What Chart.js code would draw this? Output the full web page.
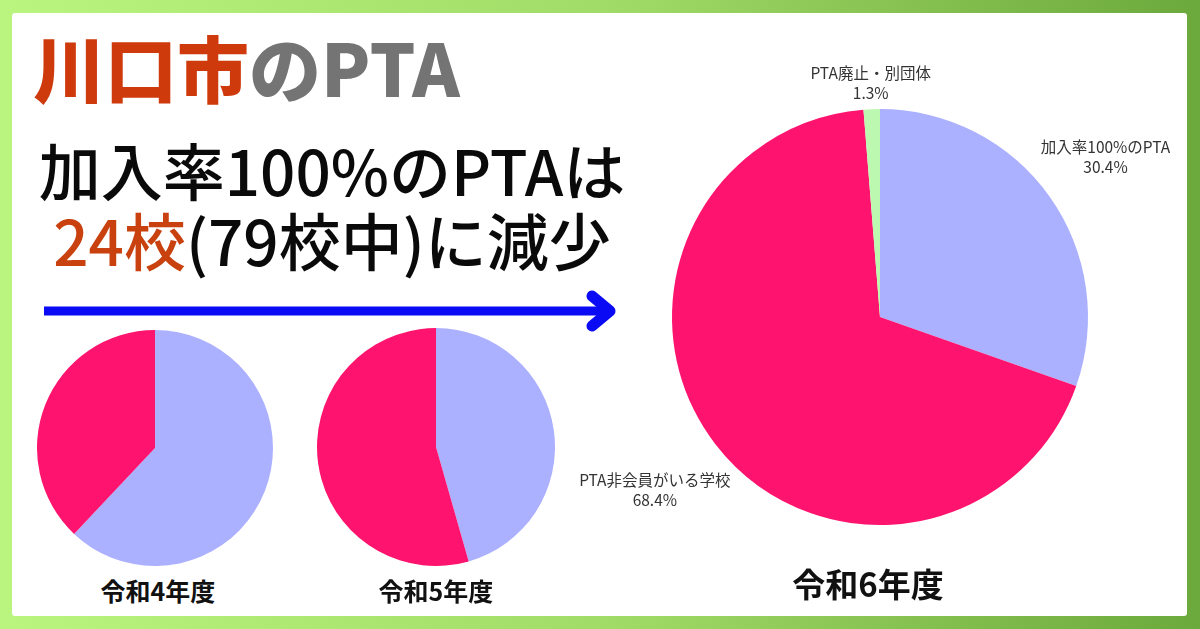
<!DOCTYPE html>
<html lang="ja">
<head>
<meta charset="utf-8">
<title>川口市のPTA</title>
<script src="https://cdn.jsdelivr.net/npm/chart.js@4.4.1/dist/chart.umd.min.js"></script>
<style>
  html, body { margin: 0; padding: 0; }
  body {
    width: 1200px; height: 629px; overflow: hidden; position: relative;
    background: linear-gradient(to right, #b9f57f 0%, #a2dc68 50%, #6ca93c 100%);
    font-family: "Noto Sans CJK JP", "Noto Sans", sans-serif;
  }
  .panel {
    position: absolute; left: 12px; top: 13px; width: 1175px; height: 603px;
    background: #fff; border-radius: 3px;
  }
  .title {
    position: absolute; left: 33px; top: 30px; font-size: 72px; font-weight: 900;
    line-height: 1; letter-spacing: 0px; white-space: nowrap;
  }
  .title .city { color: #cf3a0c; }
  .title .pta { color: #747474; }
  .lead {
    position: absolute; left: 12px; width: 640px; top: 134px; text-align: center;
    font-size: 62px; font-weight: 500; line-height: 70px; color: #0a0a0a; white-space: nowrap;
  }
  .lead .hl { color: #c8410f; }
  .cap {
    position: absolute; font-weight: 700; color: #111; text-align: center; line-height: 1; white-space: nowrap;
  }
  canvas { position: absolute; }
</style>
</head>
<body>
<div class="panel"></div>
<div class="title"><span class="city">川口市</span><span class="pta">のPTA</span></div>
<div class="lead">加入率100%のPTAは<br><span class="hl">24校</span>(79校中)に減少</div>

<svg style="position:absolute;left:0;top:0" width="1200" height="629">
  <line x1="44" y1="311" x2="608" y2="311" stroke="#0a0af5" stroke-width="9" />
  <polyline points="592,296 610,311 592,326" fill="none" stroke="#0a0af5" stroke-width="11"
            stroke-linecap="round" stroke-linejoin="round" />
</svg>

<canvas id="pie-r4" width="236" height="236" style="left:37px;top:330px"></canvas>
<canvas id="pie-r5" width="238" height="238" style="left:317px;top:328px"></canvas>
<canvas id="pie-r6" width="700" height="600" style="left:530px;top:17px"></canvas>

<div class="cap" style="left:58px;width:200px;top:578px;font-size:25px">令和4年度</div>
<div class="cap" style="left:336px;width:200px;top:578px;font-size:25px">令和5年度</div>
<div class="cap" style="left:768px;width:200px;top:567px;font-size:33px">令和6年度</div>

<script>
// 学校数（79校中）
const categorias = ['加入率100%のPTA', 'PTA非会員がいる学校', 'PTA廃止・別団体'];
const colores = ['#abb0ff', '#fe146e', '#bdf8b1'];
const escuelasR4 = [49, 30];
const escuelasR5 = [36, 43];
const escuelasR6 = [24, 54, 1];

// etiquetas fuera del círculo (nombre + porcentaje)
const etiquetasFuera = {
    id: 'etiquetasFuera',
    afterDatasetsDraw(chart) {
        const ctx = chart.ctx;
        const meta = chart.getDatasetMeta(0);
        const valores = chart.data.datasets[0].data;
        const total = valores.reduce((a, b) => a + b, 0);
        ctx.save();
        ctx.font = '15.5px "Noto Sans CJK JP", sans-serif';
        ctx.fillStyle = '#333';
        ctx.textAlign = 'center';
        ctx.textBaseline = 'middle';
        meta.data.forEach((arc, i) => {
            const lineas = [chart.data.labels[i], (valores[i] / total * 100).toFixed(1) + '%'];
            const ancho = Math.max(...lineas.map(t => ctx.measureText(t).width));
            const alto = 40;
            const a = (arc.startAngle + arc.endAngle) / 2;
            const d = arc.outerRadius + 4 + ancho / 2 * Math.abs(Math.cos(a)) + alto / 2 * Math.abs(Math.sin(a));
            const cx = arc.x + Math.cos(a) * d;
            const cy = arc.y + Math.sin(a) * d;
            ctx.fillText(lineas[0], cx, cy - 10);
            ctx.fillText(lineas[1], cx, cy + 10);
        });
        ctx.restore();
    }
};

const crearPie = (id, datos, padding, plugins) => new Chart(document.getElementById(id), {
    type: 'pie',
    data: {
        labels: categorias.slice(0, datos.length),
        datasets: [{
            data: datos,
            backgroundColor: colores.slice(0, datos.length),
            borderWidth: 0
        }]
    },
    options: {
        responsive: false,
        animation: false,
        layout: { padding: padding },
        plugins: {
            legend: { display: false },
            tooltip: { enabled: false }
        }
    },
    plugins: plugins
});

crearPie('pie-r4', escuelasR4, 0, []);
crearPie('pie-r5', escuelasR5, 0, []);
crearPie('pie-r6', escuelasR6, { top: 92, bottom: 92, left: 142, right: 142 }, [etiquetasFuera]);
</script>
</body>
</html>
